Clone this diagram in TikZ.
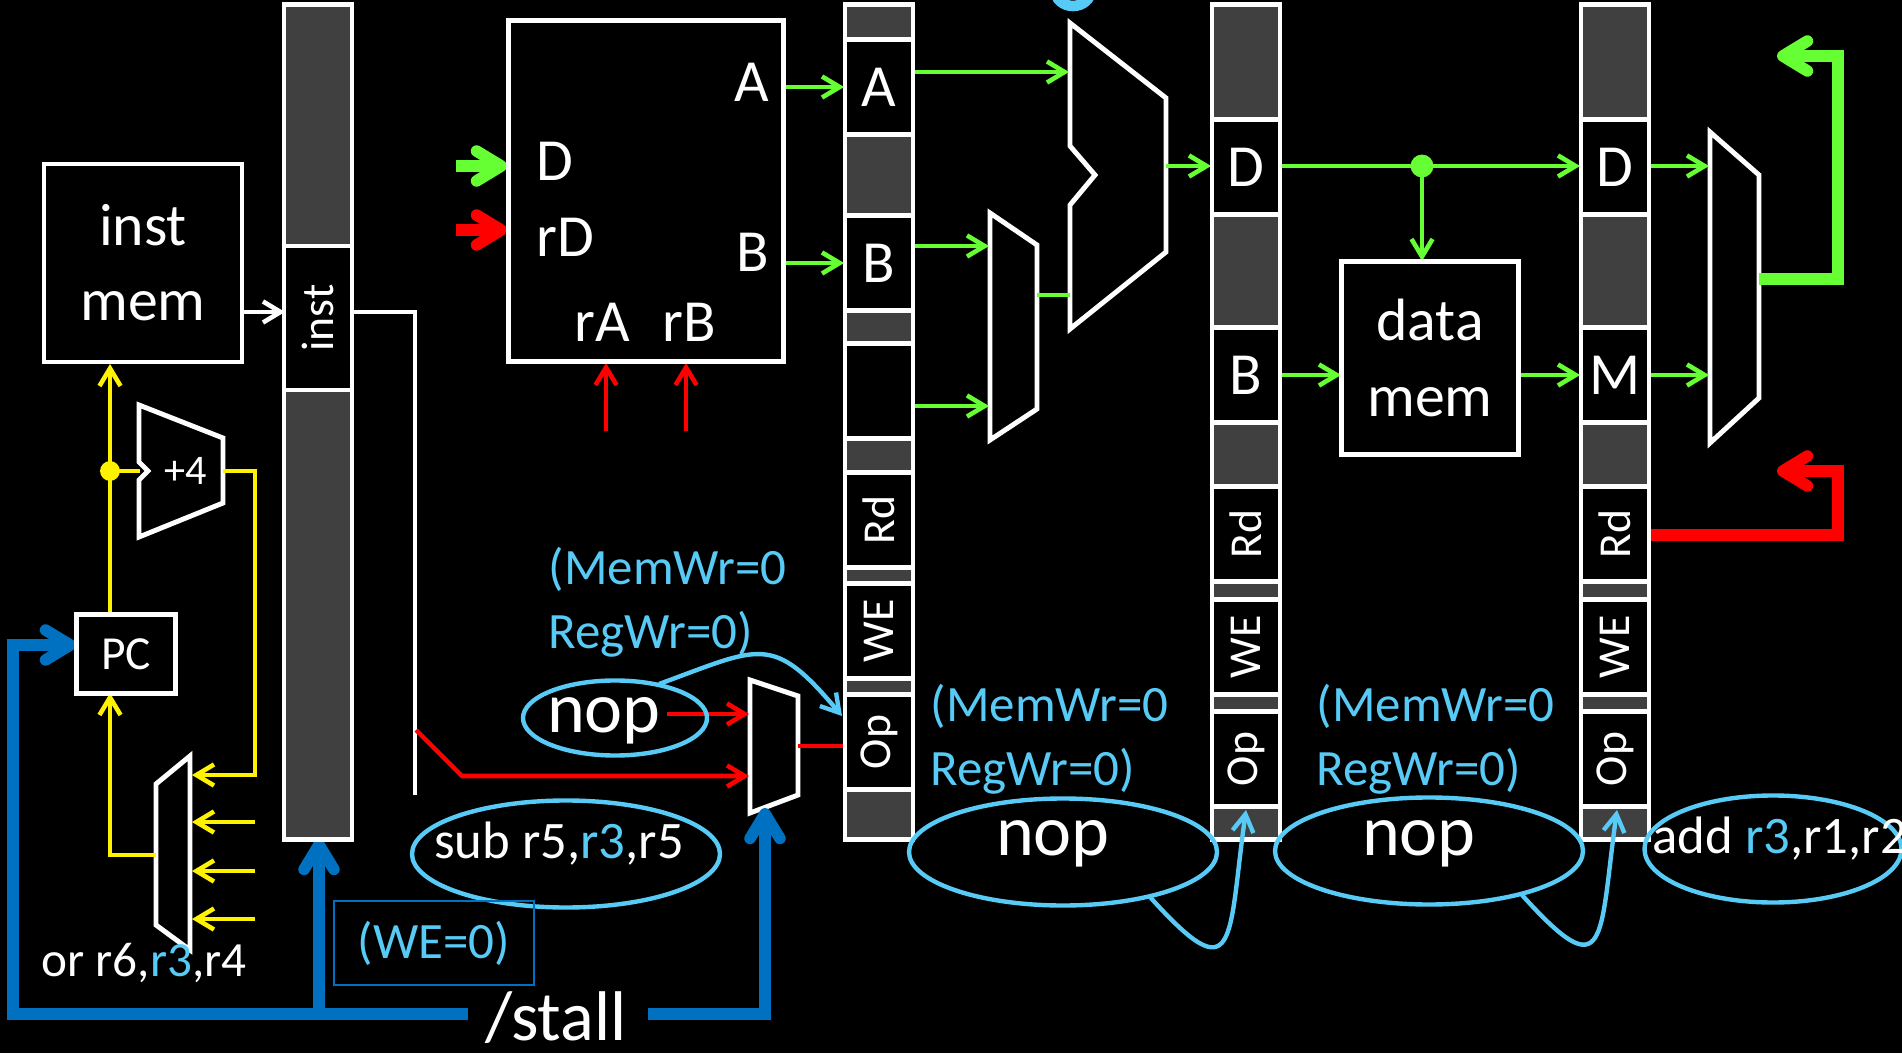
\documentclass[tikz,border=0pt]{standalone}
\usepackage{fontspec}
\setmainfont{Carlito}
\usetikzlibrary{shapes,arrows.meta}
\pgfdeclarelayer{bglayer}
\pgfdeclarelayer{edgelayer}
\pgfdeclarelayer{nodelayer}
\pgfsetlayers{bglayer,edgelayer,nodelayer,main}
\definecolor{dgreen}{RGB}{102,255,51}
\definecolor{nopblue}{RGB}{88,202,246}
\definecolor{stallblue}{RGB}{0,112,192}
\definecolor{reggrey}{RGB}{64,64,64}
\newcommand{\fbig}{\fontsize{17pt}{21.4pt}\selectfont}
\newcommand{\freg}{\fontsize{13pt}{15pt}\selectfont}
\newcommand{\fctrl}{\fontsize{14.5pt}{18.3pt}\selectfont}
\newcommand{\fnop}{\fontsize{20.5pt}{24pt}\selectfont}
\newcommand{\finstr}{\fontsize{15pt}{18pt}\selectfont}
\newcommand{\fstall}{\fontsize{20pt}{24pt}\selectfont}
\tikzstyle{none}=[inner sep=0pt]
\tikzstyle{box}=[rectangle,draw=white,line width=1.4pt,fill=black,text=white,inner sep=0pt,align=center,font=\fbig]
\tikzstyle{regbar}=[rectangle,draw=white,line width=1.2pt,fill=reggrey,inner sep=0pt,minimum width=0.68cm,minimum height=8.35cm]
\tikzstyle{cell}=[rectangle,draw=white,line width=1.2pt,fill=black,text=white,inner sep=0pt,minimum width=0.68cm,minimum height=0.95cm,font=\fbig]
\tikzstyle{vcell}=[cell,rotate=90,minimum width=0.95cm,minimum height=0.68cm,font=\freg]
\tikzstyle{lbl}=[inner sep=0pt,text=white,font=\fbig]
\tikzstyle{instr}=[inner sep=0pt,text=white,font=\finstr]
\tikzstyle{nopt}=[inner sep=0pt,text=white,font=\fnop]
\tikzstyle{ctrl}=[inner sep=0pt,text=nopblue,align=left,font=\fctrl]
\tikzstyle{oval}=[ellipse,draw=nopblue,line width=1.25pt,inner sep=0pt]
\tikzstyle{webox}=[rectangle,draw=stallblue,line width=0.6pt,text=nopblue,inner sep=0pt,font=\fctrl,minimum width=2cm,minimum height=0.84cm]
\tikzstyle{ydot}=[circle,fill=yellow,inner sep=2pt]
\tikzstyle{gdot}=[circle,fill=dgreen,inner sep=2.3pt]
\tikzstyle{unit}=[draw=white,line width=1.4pt]
\tikzstyle{wline}=[draw=white,line width=1.3pt]
\tikzstyle{warrow}=[wline,-{Straight Barb[length=5pt,width=6pt]}]
\tikzstyle{gline}=[draw=dgreen,line width=1.3pt]
\tikzstyle{garrow}=[gline,-{Straight Barb[length=5pt,width=6pt]}]
\tikzstyle{yline}=[draw=yellow,line width=1.3pt]
\tikzstyle{yarrow}=[yline,-{Straight Barb[length=5pt,width=6pt]}]
\tikzstyle{rline}=[draw=red,line width=1.3pt]
\tikzstyle{rarrow}=[rline,-{Straight Barb[length=5pt,width=6pt]}]
\tikzstyle{gfat}=[draw=dgreen,line width=3.3pt,-{Straight Barb[round,length=7pt,width=8.5pt]}]
\tikzstyle{rfat}=[draw=red,line width=3.3pt,-{Straight Barb[round,length=7pt,width=8.5pt]}]
\tikzstyle{barrow}=[draw=stallblue,line width=3.3pt,-{Straight Barb[round,length=7pt,width=8.5pt]}]
\tikzstyle{carrow}=[draw=nopblue,line width=1.25pt,-{Straight Barb[length=5pt,width=6pt]}]

\begin{document}
\begin{tikzpicture}
	\begin{pgfonlayer}{bglayer}
		\fill [black] (0, 0) rectangle (19.02, 10.53);
	\end{pgfonlayer}
	\useasboundingbox (0, 0) rectangle (19.02, 10.53);
	\begin{pgfonlayer}{nodelayer}
		\node [style=box, minimum width=1.98cm, minimum height=1.98cm] (0) at (1.43, 7.90) {inst\\mem};
		\node [style=box, minimum width=0.99cm, minimum height=0.79cm, font=\fontsize{13.5pt}{16pt}\selectfont] (1) at (1.26, 3.99) {PC};
		\node [style=regbar] (2) at (3.18, 6.31) {};
		\node [style=vcell, minimum width=1.44cm] (3) at (3.18, 7.35) {inst};
		\node [style=box, minimum width=2.75cm, minimum height=3.41cm] (4) at (6.46, 8.62) {};
		\node [style=lbl, anchor=east] (5) at (7.70, 9.71) {A};
		\node [style=lbl, anchor=east] (6) at (7.70, 8.01) {B};
		\node [style=lbl, anchor=west] (7) at (5.36, 8.92) {D};
		\node [style=lbl, anchor=west] (8) at (5.36, 8.16) {rD};
		\node [style=lbl] (9) at (6.02, 7.31) {rA};
		\node [style=lbl] (10) at (6.89, 7.31) {rB};
		\node [style=regbar] (11) at (8.79, 6.31) {};
		\node [style=cell] (12) at (8.79, 9.66) {A};
		\node [style=cell] (13) at (8.79, 7.90) {B};
		\node [style=cell] (14) at (8.79, 6.62) {};
		\node [style=vcell] (15) at (8.79, 5.33) {Rd};
		\node [style=vcell] (16) at (8.79, 4.22) {WE};
		\node [style=vcell] (17) at (8.79, 3.11) {Op};
		\node [style=regbar] (18) at (12.46, 6.31) {};
		\node [style=cell] (19) at (12.46, 8.86) {D};
		\node [style=cell] (20) at (12.46, 6.78) {B};
		\node [style=vcell] (21) at (12.46, 5.19) {Rd};
		\node [style=vcell] (22) at (12.46, 4.06) {WE};
		\node [style=vcell] (23) at (12.46, 2.94) {Op};
		\node [style=box, minimum width=1.77cm, minimum height=1.93cm] (24) at (14.30, 6.95) {data\\mem};
		\node [style=regbar] (25) at (16.15, 6.31) {};
		\node [style=cell] (26) at (16.15, 8.86) {D};
		\node [style=cell] (27) at (16.15, 6.78) {M};
		\node [style=vcell] (28) at (16.15, 5.19) {Rd};
		\node [style=vcell] (29) at (16.15, 4.06) {WE};
		\node [style=vcell] (30) at (16.15, 2.94) {Op};
		\node [style=lbl, font=\fontsize{12pt}{14pt}\selectfont] (31) at (1.86, 5.82) {+4};
		\node [style=oval, minimum width=1.84cm, minimum height=0.75cm] (32) at (6.15, 3.35) {};
		\node [style=nopt] (33) at (6.04, 3.32) {nop};
		\node [style=oval, minimum width=3.08cm, minimum height=1.07cm] (34) at (5.66, 1.99) {};
		\node [style=instr] (35) at (5.59, 2.09) {sub r5,\textcolor{nopblue}{r3},r5};
		\node [style=ctrl, anchor=west] (36) at (5.48, 4.51) {(MemWr=0\\RegWr=0)};
		\node [style=ctrl, anchor=west] (37) at (9.30, 3.14) {(MemWr=0\\RegWr=0)};
		\node [style=ctrl, anchor=west] (38) at (13.16, 3.14) {(MemWr=0\\RegWr=0)};
		\node [style=oval, minimum width=3.08cm, minimum height=1.07cm] (39) at (10.63, 2.01) {};
		\node [style=nopt] (40) at (10.53, 2.09) {nop};
		\node [style=oval, minimum width=3.08cm, minimum height=1.07cm] (41) at (14.29, 2.02) {};
		\node [style=nopt] (42) at (14.19, 2.09) {nop};
		\node [style=oval, minimum width=2.57cm, minimum height=1.07cm] (43) at (17.73, 2.04) {};
		\node [style=instr, anchor=base west] (44) at (16.52, 2.00) {add \textcolor{nopblue}{r3},r1,r2};
		\node [style=instr, anchor=base, font=\fontsize{14pt}{17pt}\selectfont] (45) at (1.44, 0.77) {or r6,\textcolor{nopblue}{r3},r4};
		\node [style=webox] (46) at (4.34, 1.10) {(WE=0)};
		\node [style=none, text=white, font=\fstall, anchor=base] (47) at (5.56, 0.13) {/stall};
		\node [style=none] (50) at (1.10, 4.38) {};
		\node [style=none] (51) at (1.10, 6.89) {};
		\node [style=ydot] (52) at (1.10, 5.82) {};
		\node [style=none] (53) at (1.40, 5.82) {};
		\node [style=none] (54) at (2.23, 5.82) {};
		\node [style=none] (55) at (2.55, 5.82) {};
		\node [style=none] (56) at (2.55, 2.78) {};
		\node [style=none] (57) at (1.92, 2.78) {};
		\node [style=none] (58) at (2.55, 2.31) {};
		\node [style=none] (59) at (1.92, 2.31) {};
		\node [style=none] (60) at (2.55, 1.82) {};
		\node [style=none] (61) at (1.92, 1.82) {};
		\node [style=none] (62) at (2.55, 1.34) {};
		\node [style=none] (63) at (1.92, 1.34) {};
		\node [style=none] (64) at (1.56, 1.98) {};
		\node [style=none] (65) at (1.10, 1.98) {};
		\node [style=none] (66) at (1.10, 3.60) {};
		\node [style=none] (67) at (2.42, 7.41) {};
		\node [style=none] (68) at (2.85, 7.41) {};
		\node [style=none] (69) at (3.52, 7.41) {};
		\node [style=none] (70) at (4.15, 7.41) {};
		\node [style=none] (71) at (4.15, 2.58) {};
		\node [style=none] (72) at (4.16, 3.23) {};
		\node [style=none] (73) at (4.62, 2.77) {};
		\node [style=none] (74) at (7.49, 2.77) {};
		\node [style=none] (75) at (6.67, 3.39) {};
		\node [style=none] (76) at (7.49, 3.39) {};
		\node [style=none] (77) at (7.98, 3.07) {};
		\node [style=none] (78) at (8.45, 3.07) {};
		\node [style=none] (79) at (6.06, 6.22) {};
		\node [style=none] (80) at (6.06, 6.90) {};
		\node [style=none] (81) at (6.86, 6.22) {};
		\node [style=none] (82) at (6.86, 6.90) {};
		\node [style=none] (83) at (4.56, 8.23) {};
		\node [style=none] (84) at (5.07, 8.23) {};
		\node [style=none] (85) at (4.56, 8.87) {};
		\node [style=none] (86) at (5.07, 8.87) {};
		\node [style=none] (87) at (7.84, 9.66) {};
		\node [style=none] (88) at (8.44, 9.66) {};
		\node [style=none] (89) at (7.84, 7.90) {};
		\node [style=none] (90) at (8.44, 7.90) {};
		\node [style=none] (91) at (9.13, 9.81) {};
		\node [style=none] (92) at (10.69, 9.81) {};
		\node [style=none] (93) at (9.13, 8.07) {};
		\node [style=none] (94) at (9.89, 8.07) {};
		\node [style=none] (95) at (9.13, 6.47) {};
		\node [style=none] (96) at (9.89, 6.47) {};
		\node [style=none] (97) at (10.37, 7.58) {};
		\node [style=none] (98) at (10.70, 7.58) {};
		\node [style=none] (99) at (11.66, 8.87) {};
		\node [style=none] (100) at (12.11, 8.87) {};
		\node [style=none] (101) at (12.80, 8.87) {};
		\node [style=gdot] (102) at (14.22, 8.87) {};
		\node [style=none] (103) at (15.80, 8.87) {};
		\node [style=none] (104) at (14.22, 7.92) {};
		\node [style=none] (105) at (12.80, 6.78) {};
		\node [style=none] (106) at (13.41, 6.78) {};
		\node [style=none] (107) at (15.19, 6.78) {};
		\node [style=none] (108) at (15.80, 6.78) {};
		\node [style=none] (109) at (16.49, 8.87) {};
		\node [style=none] (110) at (17.09, 8.87) {};
		\node [style=none] (111) at (16.49, 6.78) {};
		\node [style=none] (112) at (17.09, 6.78) {};
		\node [style=none] (113) at (17.59, 7.74) {};
		\node [style=none] (114) at (18.38, 7.74) {};
		\node [style=none] (115) at (18.38, 9.97) {};
		\node [style=none] (116) at (17.77, 9.97) {};
		\node [style=none] (117) at (16.49, 5.18) {};
		\node [style=none] (118) at (18.38, 5.18) {};
		\node [style=none] (119) at (18.38, 5.82) {};
		\node [style=none] (120) at (17.77, 5.82) {};
		\node [style=none] (121) at (4.68, 0.39) {};
		\node [style=none] (122) at (3.19, 0.39) {};
		\node [style=none] (123) at (0.13, 0.39) {};
		\node [style=none] (124) at (0.13, 4.08) {};
		\node [style=none] (125) at (0.76, 4.08) {};
		\node [style=none] (126) at (3.19, 2.14) {};
		\node [style=none] (127) at (6.48, 0.39) {};
		\node [style=none] (128) at (7.65, 0.39) {};
		\node [style=none] (129) at (7.65, 2.45) {};
		\node [style=none] (130) at (6.59, 3.69) {};
		\node [style=none] (131) at (8.42, 3.37) {};
		\node [style=none] (132) at (11.50, 1.56) {};
		\node [style=none] (133) at (12.46, 2.43) {};
		\node [style=none] (134) at (15.22, 1.58) {};
		\node [style=none] (135) at (16.17, 2.43) {};
	\end{pgfonlayer}
	\begin{pgfonlayer}{edgelayer}
		\draw [style=unit] (1.39, 6.48) -- (2.23, 6.15) -- (2.23, 5.50) -- (1.39, 5.16) -- (1.39, 5.73) -- (1.48, 5.82) -- (1.39, 5.91) -- cycle;
		\draw [style=unit] (1.90, 2.97) -- (1.56, 2.69) -- (1.56, 1.28) -- (1.90, 1.03) -- cycle;
		\draw [style=unit] (7.50, 3.73) -- (7.98, 3.57) -- (7.98, 2.58) -- (7.50, 2.40) -- cycle;
		\draw [style=unit] (9.90, 8.40) -- (10.37, 8.08) -- (10.37, 6.44) -- (9.90, 6.13) -- cycle;
		\draw [style=unit] (10.70, 10.30) -- (11.66, 9.55) -- (11.66, 8.01) -- (10.70, 7.24) -- (10.70, 8.48) -- (10.95, 8.78) -- (10.70, 9.07) -- cycle;
		\draw [style=unit] (17.10, 9.21) -- (17.59, 8.78) -- (17.59, 6.55) -- (17.10, 6.10) -- cycle;
		\draw [style=yarrow] (50.center) to (51.center);
		\draw [style=yline] (52.center) to (53.center);
		\draw [style=yarrow] (54.center) to (55.center) to (56.center) to (57.center);
		\draw [style=yarrow] (58.center) to (59.center);
		\draw [style=yarrow] (60.center) to (61.center);
		\draw [style=yarrow] (62.center) to (63.center);
		\draw [style=yarrow] (64.center) to (65.center) to (66.center);
		\draw [style=warrow] (67.center) to (68.center);
		\draw [style=wline] (69.center) to (70.center) to (71.center);
		\draw [style=rarrow] (72.center) to (73.center) to (74.center);
		\draw [style=rarrow] (75.center) to (76.center);
		\draw [style=rline] (77.center) to (78.center);
		\draw [style=rarrow] (79.center) to (80.center);
		\draw [style=rarrow] (81.center) to (82.center);
		\draw [style=rfat] (83.center) to (84.center);
		\draw [style=gfat] (85.center) to (86.center);
		\draw [style=garrow] (87.center) to (88.center);
		\draw [style=garrow] (89.center) to (90.center);
		\draw [style=garrow] (91.center) to (92.center);
		\draw [style=garrow] (93.center) to (94.center);
		\draw [style=garrow] (95.center) to (96.center);
		\draw [style=gline] (97.center) to (98.center);
		\draw [style=garrow] (99.center) to (100.center);
		\draw [style=garrow] (101.center) to (103.center);
		\draw [style=garrow] (102.center) to (104.center);
		\draw [style=garrow] (105.center) to (106.center);
		\draw [style=garrow] (107.center) to (108.center);
		\draw [style=garrow] (109.center) to (110.center);
		\draw [style=garrow] (111.center) to (112.center);
		\draw [style=gfat] (113.center) to (114.center) to (115.center) to (116.center);
		\draw [style=rfat] (117.center) to (118.center) to (119.center) to (120.center);
		\draw [style=barrow] (121.center) to (123.center) to (124.center) to (125.center);
		\draw [style=barrow] (122.center) to (126.center);
		\draw [style=barrow] (127.center) to (128.center) to (129.center);
	\end{pgfonlayer}
	\draw [style=carrow, out=20, in=130, looseness=1.50] (130.center) to (131.center);
	\draw [style=carrow, out=-48, in=-98, looseness=2.60] (132.center) to (133.center);
	\draw [style=carrow, out=-48, in=-98, looseness=2.60] (134.center) to (135.center);
	\draw [draw=nopblue, line width=3pt] (10.73, 10.63) ellipse (0.18 and 0.16);
\end{tikzpicture}
\end{document}
